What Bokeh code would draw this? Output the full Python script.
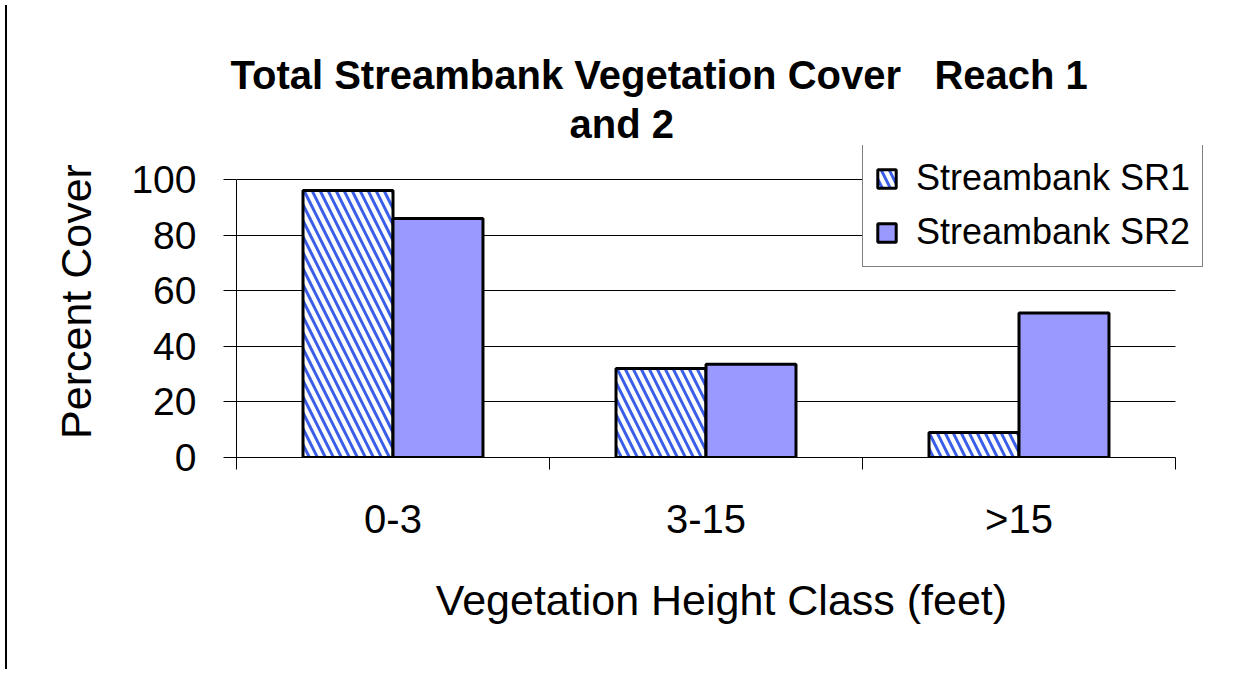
from bokeh.plotting import figure
from bokeh.models import FixedTicker, Title, ColumnDataSource, Range1d, Div
from bokeh.layouts import row
from bokeh.transform import dodge
from bokeh.embed import file_html
from bokeh.resources import INLINE

categories = ["0-3", "3-15", ">15"]
sr1 = [96, 32, 9]
sr2 = [86, 33.5, 52]
series_names = ["Streambank SR1", "Streambank SR2"]
y_ticks = [0, 20, 40, 60, 80, 100]
title_lines = ["Total Streambank Vegetation Cover\u00a0\u00a0 Reach 1", "and 2"]
x_title = "Vegetation Height Class (feet)"
y_title = "Percent Cover"

FONT = "Liberation Sans"
SR1_HATCH = "#3a5ee8"
SR2_FILL = "#9999FF"

n = len(categories)
pos = [i + 0.5 for i in range(n)]
src = ColumnDataSource(dict(x=pos, sr1=sr1, sr2=sr2))

# pixel geometry of the plot area (page pixels)
AX_L, AX_R, AX_B, AX_T = 236, 1175, 458, 180
FR_R, FR_T = 1206, 146
ux = (AX_R - AX_L) / n          # px per category
uy = (AX_B - AX_T) / 100.0      # px per percent

W, H = 1226, 664
p = figure(width=W, height=H, output_backend="svg", toolbar_location=None,
           title=None,
           x_range=Range1d(0, (FR_R - AX_L) / ux),
           y_range=Range1d(0, (AX_B - FR_T) / uy),
           min_border_left=224, min_border_right=W - (FR_R - 12),
           min_border_top=FR_T - 1, min_border_bottom=H - 457)
p.outline_line_color = None
p.background_fill_color = "white"
p.border_fill_color = "white"

bw = 0.2875
p.vbar(x=dodge("x", -bw / 2, range=p.x_range), top="sr1", width=bw, source=src,
       fill_color="white", hatch_pattern="\\", hatch_color=SR1_HATCH,
       hatch_scale=16, hatch_weight=3, line_color="black", line_width=3,
       legend_label=series_names[0])
p.vbar(x=dodge("x", bw / 2, range=p.x_range), top="sr2", width=bw, source=src,
       fill_color=SR2_FILL, line_color="black", line_width=3,
       legend_label=series_names[1])

# grid
p.xgrid.visible = False
p.ygrid.ticker = FixedTicker(ticks=y_ticks)
p.ygrid.grid_line_color = "black"
p.ygrid.grid_line_width = 1
p.ygrid.bounds = (0, 100)
try:
    p.ygrid.cross_bounds = (0, n)
except Exception:
    pass

# x axis
xa = p.xaxis[0]
xa.bounds = (0, n)
xa.ticker = FixedTicker(ticks=pos, minor_ticks=list(range(n + 1)))
xa.major_label_overrides = {x: c for x, c in zip(pos, categories)}
xa.major_tick_out = 0
xa.major_tick_in = 0
xa.minor_tick_out = 12
xa.minor_tick_in = 0
xa.minor_tick_line_color = "black"
xa.axis_line_color = "black"
xa.major_label_text_font = FONT
xa.major_label_text_font_size = "40px"
xa.major_label_text_color = "black"
xa.major_label_standoff = 27
xa.axis_label = x_title
xa.axis_label_text_font = FONT
xa.axis_label_text_font_size = "43px"
xa.axis_label_text_font_style = "normal"
xa.axis_label_text_color = "black"
xa.axis_label_standoff = 32

# y axis
ya = p.yaxis[0]
ya.bounds = (0, 100)
ya.ticker = FixedTicker(ticks=y_ticks)
ya.major_tick_out = 13
ya.major_tick_in = 0
ya.minor_tick_out = 0
ya.minor_tick_in = 0
ya.axis_line_color = "black"
ya.major_tick_line_color = "black"
ya.major_label_text_font = FONT
ya.major_label_text_font_size = "39px"
ya.major_label_text_color = "black"
ya.major_label_standoff = 27
ya.axis_label = y_title
ya.axis_label_text_font = FONT
ya.axis_label_text_font_size = "43px"
ya.axis_label_text_font_style = "normal"
ya.axis_label_text_color = "black"
ya.axis_label_standoff = 28

# title (two lines, stacked above the plot area; first added is nearest)
for txt, left, so in reversed(list(zip(title_lines, [230, 569], [6, 0]))):
    p.add_layout(Title(text=txt, align="left", offset=left - AX_L,
                       standoff=so, text_font=FONT, text_font_size="40px",
                       text_font_style="bold", text_color="black"), "above")

# legend
lg = p.legend[0]
lg.location = (862 - AX_L, AX_B - 268)
lg.orientation = "vertical"
lg.border_line_color = "black"
lg.border_line_width = 1
lg.background_fill_color = "white"
lg.background_fill_alpha = 1
lg.label_text_font = FONT
lg.label_text_font_size = "36px"
lg.label_text_color = "black"
lg.glyph_width = 23
lg.glyph_height = 23
lg.label_height = 44
lg.label_standoff = 18
lg.spacing = 10
lg.padding = 12
lg.margin = 0

edge = Div(width=2, height=H, styles={"background-color": "black"})
layout = row(edge, p, spacing=0)

open("out.html", "w").write(file_html(layout, INLINE))
